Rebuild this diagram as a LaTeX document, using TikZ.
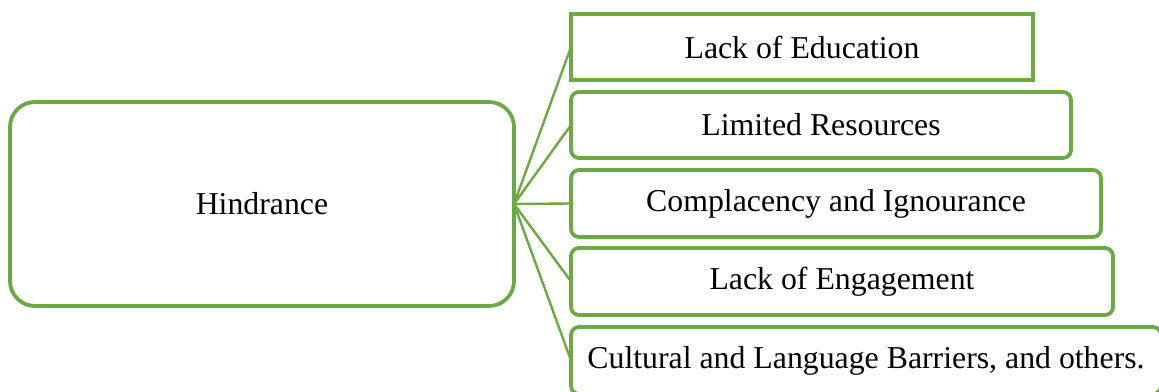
\documentclass[tikz,border=0pt]{standalone}
\usepackage{fontspec}
\setmainfont{Liberation Serif}
\definecolor{hgreen}{RGB}{108,168,68}
\tikzset{
    cause/.style={draw=hgreen, line width=3.8pt, outer sep=0pt, inner sep=0pt,
        minimum height=67pt, font=\fontsize{31.8}{38}\selectfont},
    link/.style={draw=hgreen, line width=2.4pt}
}

\begin{document}
\begin{tikzpicture}[x=1pt,y=-1pt]
                        \useasboundingbox (0,0) rectangle (1159,391);
                        \clip (0,0) rectangle (1159,391);

                        \node[cause, rounded corners=25pt, minimum width=504pt, minimum height=204pt] (hind) at (262,204) {Hindrance};

                        \node[cause, minimum width=462pt, minimum height=66pt] (edu) at (802,47) {Lack of Education};
                        \node[cause, rounded corners=8pt, minimum width=500pt, minimum height=66pt] (res) at (821,125) {Limited Resources};
                        \node[cause, rounded corners=8pt, minimum width=530pt] (ign) at (836,203.5) {Complacency and Ignourance};
                        \node[cause, rounded corners=8pt, minimum width=542pt] (eng) at (842,281.5) {Lack of Engagement};
                        \node[cause, rounded corners=8pt, minimum width=590pt] (cult) at (866,360.5) {Cultural and Language Barriers, and others.};

                        \foreach \b in {edu,res,ign,eng,cult}
                            \draw[link] (hind.east) -- (\b.west);
                    \end{tikzpicture}
\end{document}
